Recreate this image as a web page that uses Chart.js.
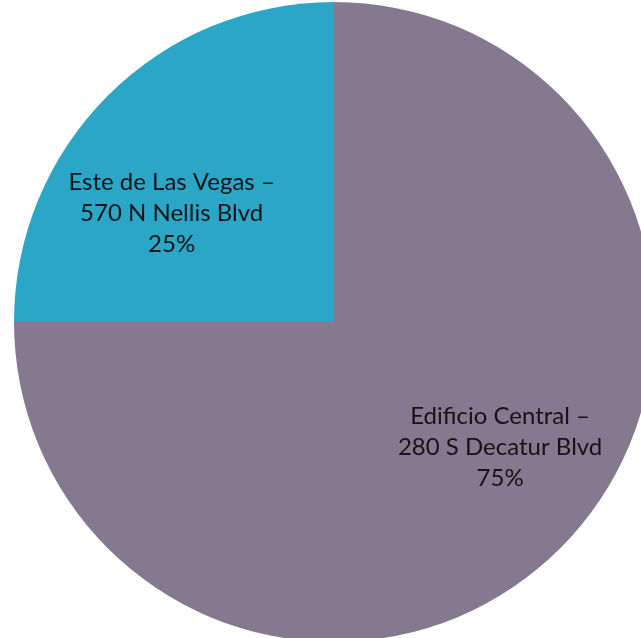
<!DOCTYPE html>
<html>
<head>
<meta charset="utf-8">
<script src="https://cdn.jsdelivr.net/npm/chart.js@4.4.1/dist/chart.umd.min.js"></script>
<style>
  html, body { margin: 0; padding: 0; background: #ffffff; overflow: hidden; }
  #wrap { position: absolute; left: 14px; top: 2px; width: 640px; height: 640px; }
</style>
</head>
<body>
<div id="wrap"><canvas id="pieChart"></canvas></div>
<script>
// datos
const sedes = ['Edificio Central –\n280 S Decatur Blvd', 'Este de Las Vegas –\n570 N Nellis Blvd'];
const porcentajes = [75, 25];
const colores = ['#84798f', '#2ba6c6'];

// posicion de cada etiqueta: angulo (grados) y fraccion del radio
const posEtiquetas = [
    { ang: 37, frac: 0.65 },
    { ang: 213.7, frac: 0.61 }
];

const etiquetasPlugin = {
    id: 'etiquetas',
    afterDatasetsDraw(chart) {
        const ctx = chart.ctx;
        const meta = chart.getDatasetMeta(0);
        ctx.save();
        ctx.font = '24px Lato';
        ctx.fillStyle = '#141414';
        ctx.textAlign = 'center';
        ctx.textBaseline = 'middle';
        meta.data.forEach((arc, i) => {
            const p = posEtiquetas[i];
            const a = p.ang * Math.PI / 180;
            const cx = arc.x + Math.cos(a) * arc.outerRadius * p.frac;
            const cy = arc.y + Math.sin(a) * arc.outerRadius * p.frac;
            const lineas = sedes[i].split('\n').concat([porcentajes[i] + '%']);
            lineas.forEach((txt, k) => {
                ctx.fillText(txt, cx, cy + (k - 1) * 31);
            });
        });
        ctx.restore();
    }
};

new Chart(document.getElementById('pieChart'), {
    type: 'pie',
    data: {
        labels: sedes,
        datasets: [{
            data: porcentajes,
            backgroundColor: colores,
            borderWidth: 0
        }]
    },
    options: {
        responsive: true,
        maintainAspectRatio: false,
        animation: false,
        layout: { padding: 0 },
        plugins: { legend: { display: false }, tooltip: { enabled: false } }
    },
    plugins: [etiquetasPlugin]
});
</script>
</body>
</html>
